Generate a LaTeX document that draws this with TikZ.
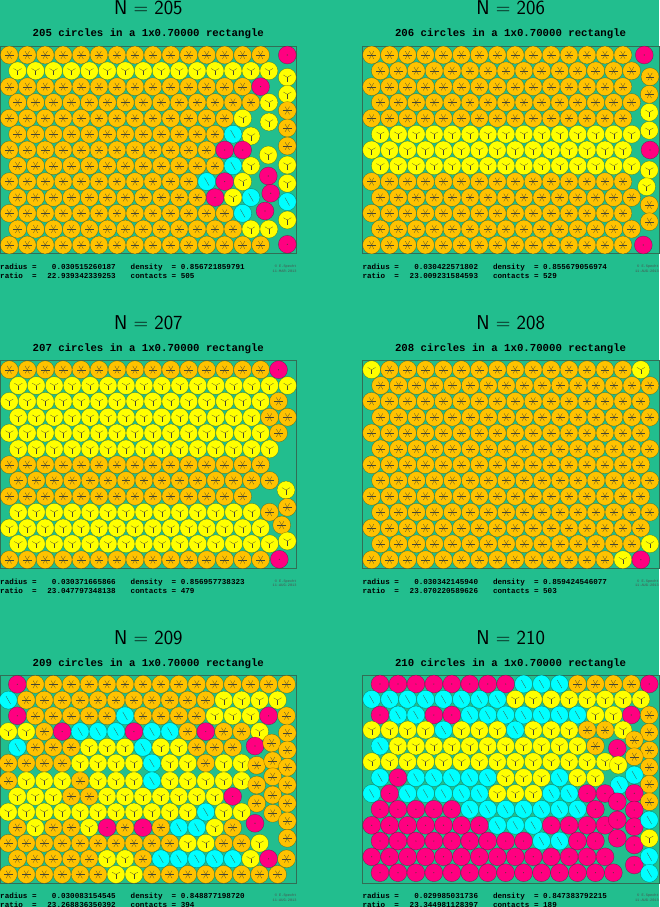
\documentclass[tikz,border=0pt]{standalone}
\usepackage{fontspec}
\newfontfamily\monof{Liberation Mono}
\definecolor{bgc}{RGB}{34,190,142}
\definecolor{colO}{RGB}{255,194,0}
\definecolor{colY}{RGB}{255,255,0}
\definecolor{colC}{RGB}{0,255,255}
\definecolor{colM}{RGB}{255,0,128}
\definecolor{spkc}{RGB}{70,70,50}
\definecolor{framec}{RGB}{50,110,85}
\tikzset{
  spoke/.style={draw=spkc, line width=0.25pt},
  disc/.style={draw=black, draw opacity=0.35, line width=0.4pt},
  frame/.style={draw=framec, line width=0.6pt},
  ttl/.style={font=\sffamily\fontsize{20}{24}\selectfont, inner sep=0, anchor=base},
  sub/.style={font=\monof\bfseries\fontsize{10.7}{12}\selectfont, inner sep=0, anchor=base},
  stat/.style={font=\monof\bfseries\fontsize{7.6}{9}\selectfont, inner sep=0},
  cpy/.style={font=\monof\fontsize{3.6}{4}\selectfont, inner sep=0, text=black!70},
}
\newcommand\spkO[2]{\foreach \a in {0,60,...,300}{\draw[spoke] (#1,#2) -- +(\a:4.4);}}
\newcommand\spkY[2]{\foreach \a in {90,210,330}{\draw[spoke] (#1,#2) -- +(\a:4.6);}}
\newcommand\spkC[2]{\foreach \a in {60,240}{\draw[spoke] (#1,#2) -- +(\a:4.6);}}
\newcommand\spkM[2]{\fill[spkc] (#1,#2) circle (0.6);}
\newcommand\cc[3]{%
  \if#3x\else
    \filldraw[disc, fill=col#3] (#1,#2) circle (8.95);
    \csname spk#3\endcsname{#1}{#2}%
  \fi}
\newcommand\rowc[3]{\def\rx{#2}\def\ry{#1}\rowloop#3\relax}
\def\rowloop#1{\ifx#1\relax\else\cc{\rx}{\ry}{#1}\pgfmathsetmacro\rx{\rx+17.95}\expandafter\rowloop\fi}
\newcommand\paneltext[8]{%
  \node[ttl] (title#1) at (#2+148.3,#3-31) {N = #1};
  \node[sub] (sub#1) at (#2+148.3,#3-9.3) {#1 circles in a 1x0.70000 rectangle};
  \node[stat, anchor=base west] (ra#1) at (#2,#3+223.5) {radius =};
  \node[stat, anchor=base east] (rv#1) at (#2+116,#3+223.5) {#4};
  \node[stat, anchor=base west] (de#1) at (#2+130.5,#3+223.5) {density\ \ = #5};
  \node[stat, anchor=base west] (rt#1) at (#2,#3+232.3) {ratio\ \ =};
  \node[stat, anchor=base east] (tv#1) at (#2+116,#3+232.3) {#6};
  \node[stat, anchor=base west] (co#1) at (#2+130.5,#3+232.3) {contacts = #7};
  \node[cpy, anchor=base east] (cp#1) at (#2+296.7,#3+221.5) {\textcopyright\ E.Specht};
  \node[cpy, anchor=base east] (cd#1) at (#2+296.7,#3+226) {#8};
}
\begin{document}
\begin{tikzpicture}[x=1pt,y=-1pt]
\fill[bgc] (0,0) rectangle (659,907);
\useasboundingbox (0,0) rectangle (659,907);
% ---------------- panel 205
\paneltext{205}{0}{46}{0.030515260187}{0.856721859791}{22.939342339253}{505}{11-MAR-2013}
\begin{scope}[shift={(0,46)}]
\draw[frame] (0,0) rectangle (296.7,207.5);
\rowc{9}{9.3}{OOOOOOOOOOOOOOO}\cc{287.3}{9}{M}
\rowc{24.83}{17.6}{YYYYYYYYYYYYYYY}\cc{287.3}{31.3}{Y}
\rowc{40.66}{9.3}{OOOOOOOOOOOOOOM}\cc{287.3}{48.3}{Y}
\rowc{56.5}{17.6}{OOOOOOOOOOOOOOY}\cc{287.3}{64.5}{O}
\rowc{72.3}{9.3}{OOOOOOOOOOOOOY}\cc{269}{76}{Y}\cc{287.3}{82}{O}
\rowc{88.2}{17.6}{OOOOOOOOOOOOC}\cc{251}{90}{Y}\cc{287.3}{100}{O}
\rowc{104}{9.3}{OOOOOOOOOOOOMM}\cc{268.3}{109}{Y}
\rowc{119.8}{17.6}{OOOOOOOOOOOOCY}\cc{287.3}{119}{Y}
\rowc{135.6}{9.3}{OOOOOOOOOOOCMY}\cc{268.3}{130}{M}\cc{287.3}{137.3}{Y}
\rowc{151.5}{17.6}{OOOOOOOOOOOMYC}\cc{270.7}{147.3}{M}\cc{287.3}{155.7}{C}
\rowc{167.3}{9.3}{OOOOOOOOOOOOOC}\cc{265}{165}{M}\cc{287.3}{174}{Y}
\rowc{183.1}{17.6}{OOOOOOOOOOOOOYY}
\rowc{199}{9.3}{OOOOOOOOOOOOOOO}\cc{287.3}{198.3}{M}
\end{scope}
% ---------------- panel 206
\paneltext{206}{362.3}{46}{0.030422571802}{0.855679056974}{23.009231584593}{529}{11-AUG-2013}
\begin{scope}[shift={(362.3,46)}]
\draw[frame] (0,0) rectangle (296.7,207.5);
\rowc{9}{9.3}{OOOOOOOOOOOOOOO}\cc{282}{9}{M}
\rowc{24.83}{18}{OOOOOOOOOOOOOOO}\cc{287.7}{30.7}{O}
\rowc{40.66}{9.3}{OOOOOOOOOOOOOOO}\cc{287}{48.3}{O}
\rowc{56.5}{18}{OOOOOOOOOOOOOOO}\cc{287}{66.3}{Y}
\rowc{72.3}{9.3}{OOOOOOOOOOOOOOO}\cc{287}{84.3}{Y}
\rowc{88.2}{18}{YYYYYYYYYYYYYYY}
\rowc{104}{9.3}{YYYYYYYYYYYYYYY}\cc{287.7}{104}{M}
\rowc{119.8}{18}{YYYYYYYYYYYYYYY}\cc{287}{124}{Y}
\rowc{135.6}{9.3}{OOOOOOOOOOOOOOO}\cc{284.3}{140.7}{Y}
\rowc{151.5}{18}{OOOOOOOOOOOOOOO}\cc{287}{159}{O}
\rowc{167.3}{9.3}{OOOOOOOOOOOOOOO}\cc{287}{175.7}{O}
\rowc{183.1}{18}{OOOOOOOOOOOOOOO}
\rowc{199}{9.3}{OOOOOOOOOOOOOOO}\cc{281}{199}{M}
\end{scope}
% ---------------- panel 207
\paneltext{207}{0}{360.7}{0.030371665866}{0.856957738323}{23.047797348138}{479}{11-AUG-2013}
\begin{scope}[shift={(0,360.7)}]
\draw[frame] (0,0) rectangle (296.7,207.5);
\rowc{9}{9.3}{OOOOOOOOOOOOOOOM}
\rowc{24.83}{18.3}{YYYYYYYYYYYYYYYY}
\rowc{40.66}{9.3}{YYYYYYYYYYYYYYYO}
\rowc{56.5}{18.3}{YYYYYYYYYYYYYYOO}
\rowc{72.3}{9.3}{YYYYYYYYYYYYYYYO}
\rowc{88.2}{18.3}{YYYYYYYYYYYYYYY}
\rowc{104}{9.3}{OOOOOOOOOOOOOOO}
\rowc{119.8}{18.3}{OOOOOOOOOOOOOOO}
\rowc{135.6}{9.3}{OOOOOOOOOOOOOO}\cc{286}{129.3}{Y}
\rowc{151.5}{18.3}{YYYYYYYYYYYYYYO}\cc{287.3}{146.6}{O}
\rowc{167.3}{9.3}{YYYYYYYYYYYYYYY}\cc{281.7}{164.3}{O}
\rowc{183.1}{18.3}{YYYYYYYYYYYYYYY}\cc{287.3}{180.3}{Y}
\rowc{199}{9.3}{OOOOOOOOOOOOOOO}\cc{279.3}{198.6}{M}
\end{scope}
% ---------------- panel 208
\paneltext{208}{362.3}{360.7}{0.030342145940}{0.859424546077}{23.070220589626}{503}{11-AUG-2013}
\begin{scope}[shift={(362.3,360.7)}]
\draw[frame] (0,0) rectangle (296.7,207.5);
\rowc{9}{9.3}{YOOOOOOOOOOOOOOY}
\rowc{24.83}{18.3}{OOOOOOOOOOOOOOOO}
\rowc{40.66}{9.3}{OOOOOOOOOOOOOOOO}
\rowc{56.5}{18.3}{OOOOOOOOOOOOOOOO}
\rowc{72.3}{9.3}{OOOOOOOOOOOOOOOO}
\rowc{88.2}{18.3}{OOOOOOOOOOOOOOOO}
\rowc{104}{9.3}{OOOOOOOOOOOOOOOO}
\rowc{119.8}{18.3}{OOOOOOOOOOOOOOOO}
\rowc{135.6}{9.3}{OOOOOOOOOOOOOOOO}
\rowc{151.5}{18.3}{OOOOOOOOOOOOOOOO}
\rowc{167.3}{9.3}{OOOOOOOOOOOOOOOO}
\rowc{183.1}{18.3}{OOOOOOOOOOOOOOOY}
\rowc{199}{9.3}{OOOOOOOOOOOOOOYM}
\end{scope}
% ---------------- panel 209
\paneltext{209}{0}{675.3}{0.030083154545}{0.848877198720}{23.268836350392}{394}{11-AUG-2013}
\begin{scope}[shift={(0,675.3)}]
\draw[frame] (0,0) rectangle (296.7,207.5);
\rowc{9}{17.3}{MOOOOOOOOOOOOOOO}
\rowc{24.8}{8.3}{COOOOOOOOOOOYYYY}
\rowc{40.5}{17.3}{MOOOOOCOOOOYYYMO}
\rowc{56.3}{8.3}{YYOMCCCMCCOMOOY}\cc{287.3}{57.7}{O}
\rowc{72}{17.3}{COOOYYYCYYOOO}\cc{255}{70.7}{M}\cc{271.7}{67.7}{O}\cc{287.3}{74.7}{O}
\rowc{87.8}{8.3}{OOOOYYYYCYYOYY}
\cc{256.7}{90}{O}\cc{272.7}{85.5}{O}\cc{287.3}{92}{O}
\rowc{105.5}{8.3}{OYYYOYYYCYYYYY}
\cc{256.7}{109.7}{O}\cc{272.7}{101.4}{O}\cc{287.3}{109.7}{O}
\rowc{121.1}{17.3}{YYYOOYYYYYYYM}
\cc{256.7}{128}{O}\cc{272.7}{119.7}{O}\cc{287.3}{128}{O}
\rowc{136.7}{8.3}{YYYYYYYYYYYCYY}
\cc{272.7}{138}{O}\cc{287.3}{145.7}{O}
\rowc{152.3}{17.3}{OYOOYMOMOCCYO}\cc{255}{148}{M}\cc{287.3}{163}{O}
\rowc{167.9}{8.3}{OOOOOOOOOOYYOOY}
\rowc{183.5}{17.3}{OOOOOYYOCCCCCYMO}
\rowc{199.1}{8.3}{OOOOOOYYOOOOOOOO}
\end{scope}
% ---------------- panel 210
\paneltext{210}{362.3}{675.3}{0.029985031736}{0.847383792215}{23.344981128397}{189}{11-AUG-2013}
\begin{scope}[shift={(362.3,675.3)}]
\draw[frame] (0,0) rectangle (296.7,207.5);
\rowc{8.7}{17.7}{MMMMMMMMCCCOOOOM}
\rowc{24}{9.4}{CCCCCCCCYYYYYYYY}
\rowc{39.7}{17.7}{MCCMMCCCCCCCYYMO}
\rowc{54.7}{9.4}{YYYYCYYYCYYYOOY}\cc{287}{57}{O}
\rowc{70.7}{17.7}{CYYYYYYYYYYYO}\cc{255}{73}{M}\cc{272}{64.7}{O}\cc{287}{75}{O}
\rowc{86.4}{9.4}{YYYYYYYYYYYYYY}\cc{256}{89.7}{Y}\cc{272}{81.4}{O}\cc{287}{92}{O}
\rowc{102.3}{17.7}{CMCCCCCYYYCYY}\cc{257}{109.7}{C}\cc{272}{99.7}{C}\cc{287}{109}{O}
\rowc{118.2}{9.4}{CMCCCCCYYYCCMM}\cc{272}{118}{M}\cc{287}{126.4}{O}
\rowc{134}{17.7}{MMMMMCCCCCCCM}\cc{255}{126.4}{M}\cc{272}{134.7}{M}
\rowc{150}{9.4}{MMMMMMMCCCMMMM}\cc{255}{144.7}{M}\cc{272}{151.4}{M}\cc{287}{144.7}{C}
\rowc{165.7}{17.7}{MMMMMMMMMCCMM}\cc{255}{163}{M}\cc{272}{169.7}{M}\cc{287}{163}{Y}
\rowc{181.5}{9.4}{MMMMMMMMMMMMMM}\cc{272}{189.7}{M}\cc{287}{181.4}{C}
\rowc{197.4}{17.7}{MMMMMMMMMMMMMM}\cc{287}{198}{C}
\end{scope}
\end{tikzpicture}
\end{document}
